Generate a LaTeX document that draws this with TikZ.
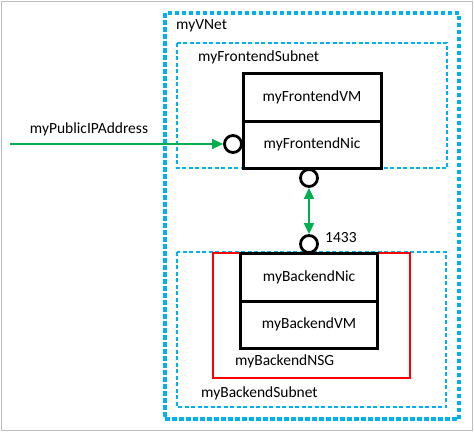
\documentclass[tikz,border=0pt]{standalone}
\usepackage{fontspec}
\setmainfont{Carlito}
\usetikzlibrary{arrows.meta}
\definecolor{netblue}{RGB}{0,176,240}
\definecolor{flowgreen}{RGB}{0,176,80}
\definecolor{nsgred}{RGB}{255,0,0}
\definecolor{framegray}{RGB}{190,190,190}
\begin{document}
\begin{tikzpicture}[x=1pt,y=-1pt,
  lbl/.style={font=\fontsize{15.5}{18}\selectfont, inner sep=0pt},
  vnet/.style={draw=netblue, line width=3.4pt, dash pattern=on 4.5pt off 2.5pt},
  subnet/.style={draw=netblue, line width=2.6pt, dash pattern=on 4pt off 2.5pt},
  vmbox/.style={draw=black, line width=3pt, fill=white},
  port/.style={circle, draw=black, line width=2.8pt, fill=white, minimum size=17pt, inner sep=0pt},
  flow/.style={draw=flowgreen, line width=1.6pt, -{Triangle[length=11pt,width=10pt]}},
  flow2/.style={draw=flowgreen, line width=1.8pt, {Triangle[length=11pt,width=10pt]}-{Triangle[length=11pt,width=10pt]}}
]
% page and outer frame
\fill[white] (0,0) rectangle (474,432);
\useasboundingbox (0,0) rectangle (474,432);
\draw[framegray, line width=1.6pt] (1.5,1.5) rectangle (472.5,430.5);

% virtual network and subnets
\draw[vnet] (165,13) rectangle (459,419);
\node[lbl, anchor=west] (vnetlbl) at (176,26) {myVNet};
\draw[subnet] (177,43) rectangle (447,168);
\node[lbl, anchor=west] (felbl) at (198,57) {myFrontendSubnet};
\draw[subnet] (177,252) rectangle (446,407);
\node[lbl, anchor=west] (belbl) at (201,393) {myBackendSubnet};

% network security group
\draw[nsgred, line width=2.8pt] (213,253) rectangle (410,378);
\node[lbl, anchor=west] (nsglbl) at (235,361) {myBackendNSG};

% frontend VM with its NIC
\draw[vmbox] (243,73) rectangle (381,168);
\draw[black, line width=3pt] (243,121) -- (381,121);
\node[lbl] (fevm) at (312,97) {myFrontendVM};
\node[lbl] (fenic) at (312,144) {myFrontendNic};

% backend VM with its NIC
\draw[vmbox] (240,253) rectangle (377,348);
\draw[black, line width=3pt] (240,301) -- (377,301);
\node[lbl] (benic) at (309,277) {myBackendNic};
\node[lbl] (bevm) at (309,324) {myBackendVM};

% ports
\node[port] (pubport) at (233,144) {};
\node[port] (feport) at (309,178) {};
\node[port] (beport) at (309,244) {};
\node[lbl, anchor=west] (portlbl) at (325,238) {1433};

% traffic
\coordinate (internet) at (10,144);
\node[lbl] (piplbl) at (89,129) {myPublicIPAddress};
\draw[flow] (internet) -- (pubport.west);
\draw[flow2] (feport.south) -- (beport.north);
\end{tikzpicture}
\end{document}
